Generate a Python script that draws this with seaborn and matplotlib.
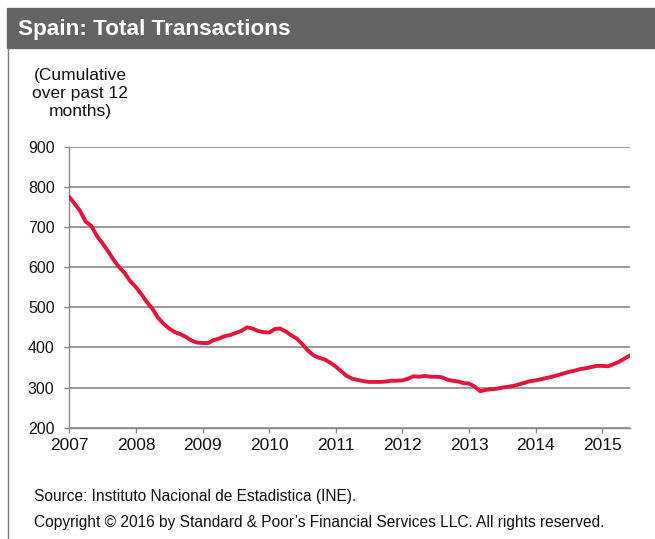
import numpy as np
import pandas as pd
import matplotlib
matplotlib.use("Agg")
import matplotlib.pyplot as plt
import matplotlib.dates as mdates
from matplotlib.patches import Rectangle
from matplotlib.lines import Line2D
import seaborn as sns

# Total housing transactions, thousands, cumulative over the past 12 months
start_month = "2007-01-01"
transactions = [
    775, 757, 740, 713, 703, 678, 660, 640, 618, 600, 585, 565,   # 2007
    550, 532, 513, 496, 474, 459, 447, 438, 433, 426, 417, 412,   # 2008
    411, 411, 418, 422, 428, 431, 436, 441, 450, 447, 441, 438,   # 2009
    437, 446, 447, 440, 430, 422, 408, 392, 380, 374, 370, 362,   # 2010
    352, 340, 329, 322, 319, 316, 314, 314, 314, 315, 317, 317,   # 2011
    318, 322, 328, 327, 329, 327, 327, 326, 320, 317, 315, 311,   # 2012
    310, 302, 291, 294, 296, 297, 300, 302, 304, 308, 312, 316,   # 2013
    318, 321, 324, 327, 331, 335, 339, 342, 346, 348, 351, 354,   # 2014
    354, 353, 358, 364, 372, 380,                                 # 2015
]
y_ticks = [200, 300, 400, 500, 600, 700, 800, 900]
title = "Spain: Total Transactions"
y_caption = "(Cumulative\nover past 12\nmonths)"
source_note = "Source: Instituto Nacional de Estadistica (INE)."
copyright_note = "Copyright \u00a9 2016 by Standard & Poor\u2019s Financial Services LLC. All rights reserved."

df = pd.DataFrame({
    "date": pd.date_range(start_month, periods=len(transactions), freq="MS"),
    "transactions": transactions,
})

sns.set_theme(style="white")
plt.rcParams["font.family"] = ["Liberation Sans", "DejaVu Sans"]

W, H = 655, 539
fig = plt.figure(figsize=(W / 100, H / 100), dpi=100)
ax = fig.add_axes([69.3 / W, 1 - 427.7 / H, (630 - 69.3) / W, (427.7 - 146.7) / H])

grid_c = "#8a8a8a"
sns.lineplot(data=df, x="date", y="transactions", ax=ax,
             color="#E2163C", linewidth=2.8, zorder=3)

ax.set_xlim(df["date"].iloc[0], df["date"].iloc[-1])
ax.set_ylim(200, 900)
ax.set_yticks(y_ticks)
ax.xaxis.set_major_locator(mdates.YearLocator())
ax.xaxis.set_major_formatter(mdates.DateFormatter("%Y"))
ax.set_xlabel("")
ax.set_ylabel("")

ax.yaxis.grid(True, color=grid_c, linewidth=1.2)
ax.xaxis.grid(False)
ax.set_axisbelow(True)
for side in ("top", "right"):
    ax.spines[side].set_visible(False)
for side in ("left", "bottom"):
    ax.spines[side].set_color(grid_c)
    ax.spines[side].set_linewidth(1.0)

ax.tick_params(axis="x", direction="out", length=3.6, width=1, color=grid_c,
               pad=4, labelsize=12.5, labelcolor="#111111", bottom=True)
ax.tick_params(axis="y", direction="out", length=3.6, width=1, color=grid_c,
               pad=7, labelsize=11.5, labelcolor="#111111", left=True)

# Header bar with title
fig.patches.append(Rectangle((7 / W, 1 - 48 / H), (W - 7) / W, 40 / H,
                             transform=fig.transFigure, color="#646464", zorder=0))
fig.text(18 / W, 1 - 29 / H, title, color="white", fontsize=16.2,
         fontweight="bold", ha="left", va="center")

# Left frame line
fig.lines.append(Line2D([7.5 / W, 7.5 / W], [0, 1 - 48 / H],
                        transform=fig.transFigure, color="#7f7f7f", linewidth=1))

fig.text(80 / W, 1 - 94 / H, y_caption, ha="center", va="center",
         multialignment="center", fontsize=12.5, linespacing=1.25, color="#111111")

fig.text(34 / W, 1 - 497 / H, source_note, ha="left", va="center",
         fontsize=11.2, color="#111111")
fig.text(34 / W, 1 - 522 / H, copyright_note, ha="left", va="center",
         fontsize=11.2, color="#111111")

fig.savefig("out.png", dpi=100)
